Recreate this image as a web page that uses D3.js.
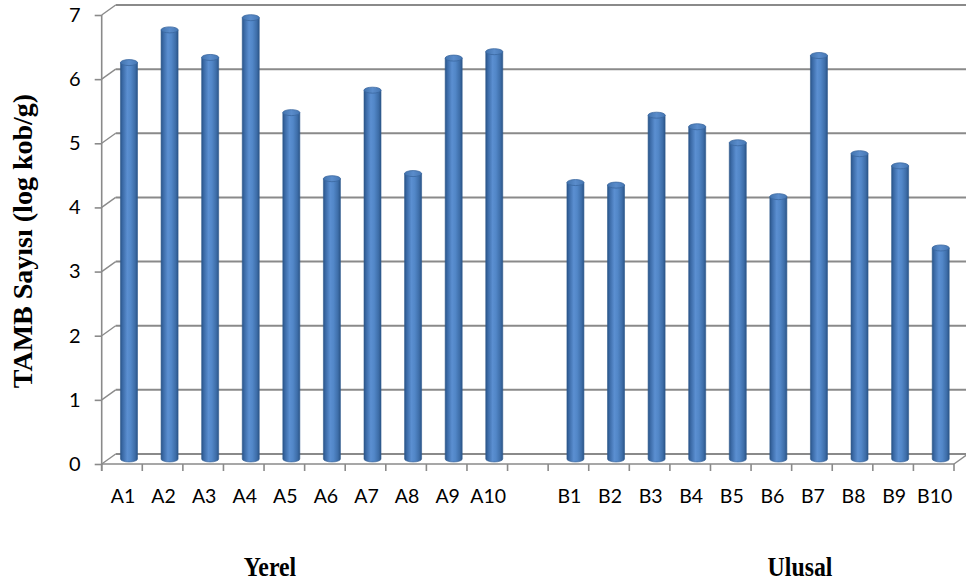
<!DOCTYPE html>
<html><head><meta charset="utf-8">
<script src="https://cdn.jsdelivr.net/npm/d3@7"></script>
<style>
html,body{margin:0;padding:0;background:#fff;}
svg{display:block;}
</style></head>
<body>
<svg id="chart" width="966" height="584"></svg>
<script>
const categoriesA = ["A1","A2","A3","A4","A5","A6","A7","A8","A9","A10"];
const valuesA = [6.18, 6.69, 6.26, 6.88, 5.40, 4.37, 5.75, 4.45, 6.25, 6.35];
const categoriesB = ["B1","B2","B3","B4","B5","B6","B7","B8","B9","B10"];
const valuesB = [4.31, 4.27, 5.36, 5.18, 4.93, 4.09, 6.29, 4.76, 4.57, 3.29];
const groupLabels = ["Yerel","Ulusal"];
const yTicks = [0,1,2,3,4,5,6,7];
const yTitle = "TAMB Sayısı (log kob/g)";

(function(){
const gap = "\u00a0";
const categories = [...categoriesA, gap, ...categoriesB];
const data = [
  ...categoriesA.map((c,i)=>({cat:c, v:valuesA[i]})),
  ...categoriesB.map((c,i)=>({cat:c, v:valuesB[i]}))
];

const svg = d3.select("#chart");
const pLeft = 101.7, pRight = 954, pTop = 15, pBottom = 464;
const dx = 14, dy = -10;
const x = d3.scaleBand().domain(categories).range([pLeft, pRight]).padding(0);
const y = d3.scaleLinear().domain([0,7]).range([pBottom, pTop]);

const defs = svg.append("defs");
const grad = defs.append("linearGradient").attr("id","cyl").attr("x1","0").attr("x2","1").attr("y1","0").attr("y2","0");
[["0%","#2a5487"],["12%","#3a69a5"],["40%","#5b8fd1"],["60%","#5287c8"],["85%","#3e6ea9"],["100%","#2b5588"]]
  .forEach(([o,c])=>grad.append("stop").attr("offset",o).attr("stop-color",c));
const gradTop = defs.append("linearGradient").attr("id","cylTop").attr("x1","0").attr("x2","1");
[["0%","#4273ad"],["50%","#5a8ccb"],["100%","#4677b3"]]
  .forEach(([o,c])=>gradTop.append("stop").attr("offset",o).attr("stop-color",c));

const gridColor = "#8a8a8a";
const grid = svg.append("g");
yTicks.forEach(t=>{
  grid.append("line").attr("x1",pLeft+dx).attr("x2",pRight+dx+20).attr("y1",y(t)+dy).attr("y2",y(t)+dy)
    .attr("stroke",gridColor).attr("stroke-width",2);
  grid.append("line").attr("x1",pLeft).attr("x2",pLeft+dx).attr("y1",y(t)).attr("y2",y(t)+dy)
    .attr("stroke",gridColor).attr("stroke-width",1.4);
});
grid.append("line").attr("x1",pLeft).attr("x2",pRight).attr("y1",pBottom).attr("y2",pBottom)
  .attr("stroke",gridColor).attr("stroke-width",1.6);
grid.append("line").attr("x1",pRight).attr("x2",pRight+dx).attr("y1",pBottom).attr("y2",pBottom+dy)
  .attr("stroke",gridColor).attr("stroke-width",1.4);
grid.append("line").attr("x1",pLeft).attr("x2",pLeft).attr("y1",y(7)).attr("y2",pBottom+7)
  .attr("stroke",gridColor).attr("stroke-width",1.6);
const bounds = categories.map(c=>x(c)).concat([pRight]);
grid.selectAll(".xt").data(bounds).enter().append("line")
  .attr("x1",d=>d).attr("x2",d=>d).attr("y1",pBottom).attr("y2",pBottom+7)
  .attr("stroke",gridColor).attr("stroke-width",1.6);

const yAxis = d3.axisLeft(y).tickValues(yTicks).tickSize(7).tickSizeOuter(0).tickPadding(14).tickFormat(d3.format("d"));
const ga = svg.append("g").attr("transform",`translate(${pLeft},0)`).call(yAxis);
ga.select(".domain").remove();
ga.selectAll(".tick line").attr("stroke",gridColor).attr("stroke-width",1.6);
ga.selectAll(".tick text").attr("font-family","Lato, 'Open Sans', sans-serif").attr("font-size",20).attr("fill","#000");

const bw = 17, rx = bw/2, ry = 3;
const bars = svg.append("g");
data.forEach(d=>{
  const cx = x(d.cat) + x.bandwidth()/2 + dx/2;
  const yb = y(0) + dy/2;
  const yt = y(d.v) + dy/2;
  const x0 = cx - rx, x1 = cx + rx;
  bars.append("path")
    .attr("d",`M${x0},${yt} L${x0},${yb} A${rx},${ry} 0 0 0 ${x1},${yb} L${x1},${yt} Z`)
    .attr("fill","url(#cyl)").attr("stroke","#2f5a8e").attr("stroke-width",0.6);
  bars.append("ellipse").attr("cx",cx).attr("cy",yt).attr("rx",rx).attr("ry",ry)
    .attr("fill","url(#cylTop)").attr("stroke","#3a679f").attr("stroke-width",0.8);
});

svg.append("g").selectAll("text").data(data).enter().append("text")
  .attr("x",d=>x(d.cat)+x.bandwidth()/2+1).attr("y",503)
  .attr("text-anchor","middle").attr("font-family","Lato, 'Open Sans', sans-serif").attr("font-size",19.5).attr("fill","#000")
  .text(d=>d.cat);

const gx = [270, 800];
svg.append("g").selectAll("text").data(groupLabels).enter().append("text")
  .attr("transform",(d,i)=>`translate(${gx[i]},576) scale(0.85,1)`).attr("text-anchor","middle")
  .attr("font-family","'Liberation Serif', 'Times New Roman', serif").attr("font-weight","bold").attr("font-size",28)
  .text(d=>d);

svg.append("text").attr("transform","translate(32,241) rotate(-90)").attr("text-anchor","middle")
  .attr("font-family","'Liberation Serif', 'Times New Roman', serif").attr("font-weight","bold").attr("font-size",28)
  .text(yTitle);
})();
</script>
</body></html>
